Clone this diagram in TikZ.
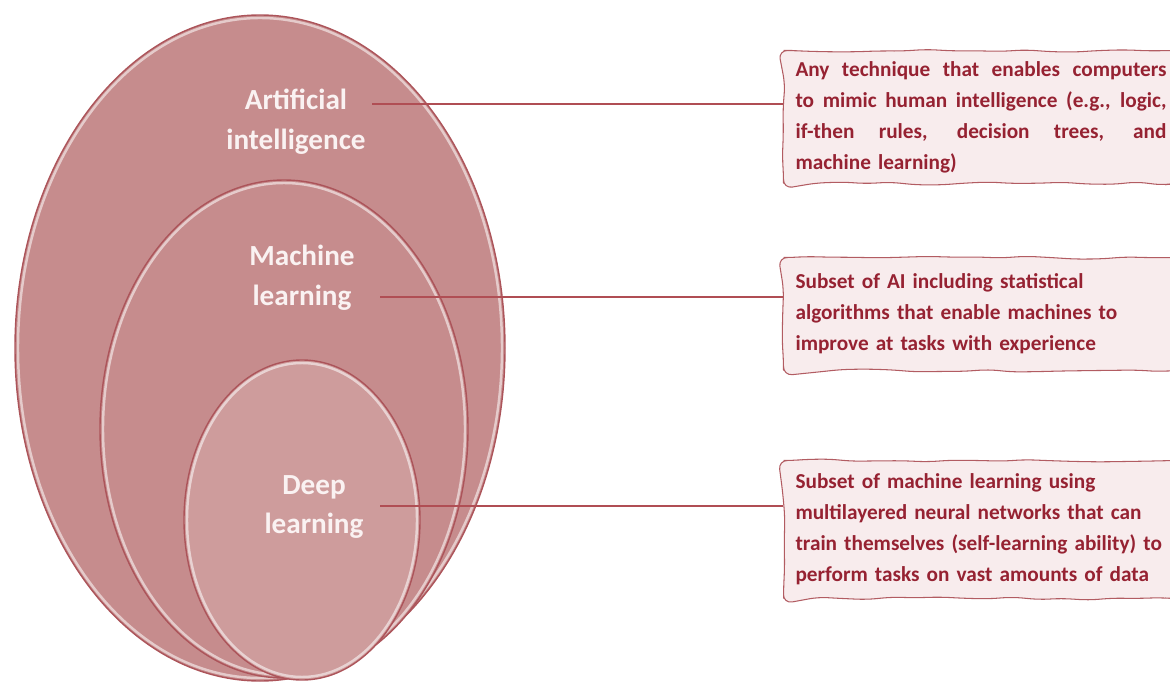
\documentclass[tikz,border=0pt]{standalone}
\usepackage{fontspec}
\setmainfont{Carlito}
\usepackage{tikz}
\usetikzlibrary{positioning,calc,decorations.pathmorphing}
\definecolor{rosedisc}{RGB}{198,140,141}
\definecolor{rosedeep}{RGB}{206,156,156}
\definecolor{roseedge}{RGB}{172,84,90}
\definecolor{roselink}{RGB}{176,78,84}
\definecolor{notefill}{RGB}{248,236,237}
\definecolor{notedraw}{RGB}{178,92,98}
\definecolor{notetext}{RGB}{150,34,50}
\definecolor{labwhite}{RGB}{250,242,242}
% a justified line: spaces stretch to the full note width
\newcommand{\fullline}[1]{\makebox[7.42cm][s]{\spaceskip=0pt\xspaceskip=0pt #1}}
\tikzset{
  disc/.style={fill=rosedisc},
  rim/.style={draw=white, opacity=0.55, line width=1.4pt},
  edge/.style={draw=roseedge, line width=0.8pt},
  setlab/.style={font=\fontsize{16.6}{22.7}\selectfont\bfseries, text=labwhite,
                 align=center, inner sep=1pt},
  link/.style={roselink, line width=0.9pt},
  note/.style={draw=notedraw, line width=0.6pt, fill=notefill, text=notetext,
               font=\fontsize{12.1}{17.6}\selectfont\bfseries,
               text width=7.5cm, inner xsep=0.24cm, anchor=north west, align=left,
               decorate, decoration={random steps, segment length=14pt, amplitude=0.9pt},
               rounded corners=5pt},
}

\begin{document}
\begin{tikzpicture}[scale=1.0]
    \useasboundingbox (0,0) rectangle (23.4,13.64);
    \clip (0,0) rectangle (23.4,13.64);
    \pgfmathsetseed{7}
    % nested sets, outer to inner
    \fill[disc] (5.20,6.68) ellipse [x radius=4.90, y radius=6.66];
    \draw[rim] (5.20,6.68) ellipse [x radius=4.84, y radius=6.60];
    \draw[edge] (5.20,6.68) ellipse [x radius=4.90, y radius=6.66];
    \fill[disc] (5.68,5.06) ellipse [x radius=3.68, y radius=4.98];
    \draw[rim] (5.68,5.06) ellipse [x radius=3.62, y radius=4.92];
    \draw[edge] (5.68,5.06) ellipse [x radius=3.68, y radius=4.98];
    \fill[rosedeep] (6.04,3.24) ellipse [x radius=2.36, y radius=3.20];
    \draw[rim] (6.04,3.24) ellipse [x radius=2.30, y radius=3.14];
    \draw[edge] (6.04,3.24) ellipse [x radius=2.36, y radius=3.20];

    \node[setlab] (aiLab) at (5.92,11.20) {Artificial\\intelligence};
    \node[setlab] (mlLab) at (6.04,8.08) {Machine\\learning};
    \node[setlab] (dlLab) at (6.28,3.50) {Deep\\learning};

    % notes on the right
    \node[note, minimum height=2.66cm] (aiBox) at (15.66,12.64)
      {\fullline{Any technique that enables computers}\\
       \fullline{to mimic human intelligence (e.g., logic,}\\
       \fullline{if-then rules, decision trees, and}\\
       machine learning)};
    \node[note, minimum height=2.26cm] (mlBox) at (15.66,8.50)
      {Subset of AI including statistical\\
       algorithms that enable machines to\\
       improve at tasks with experience};
    \node[note, minimum height=2.76cm] (dlBox) at (15.66,4.44)
      {Subset of machine learning using\\
       multilayered neural networks that can\\
       train themselves (self-learning ability) to\\
       perform tasks on vast amounts of data};

    \coordinate (aiEnd) at (7.44,11.56);
    \coordinate (mlEnd) at (7.60,7.70);
    \coordinate (dlEnd) at (7.60,3.52);
    \draw[link] (aiEnd) -- (aiEnd -| aiBox.west);
    \draw[link] (mlEnd) -- (mlEnd -| mlBox.west);
    \draw[link] (dlEnd) -- (dlEnd -| dlBox.west);
\end{tikzpicture}
\end{document}
